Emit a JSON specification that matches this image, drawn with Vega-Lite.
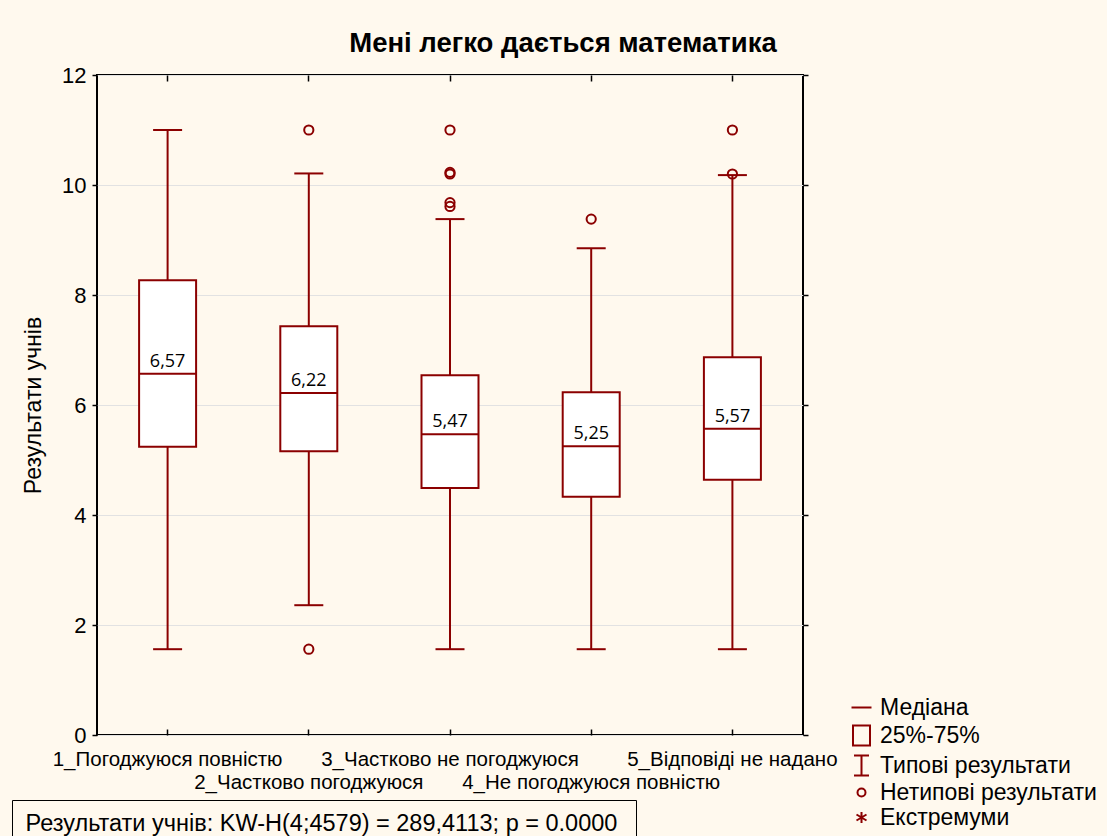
{
  "$schema": "https://vega.github.io/schema/vega-lite/v6.json",
  "width": 706,
  "height": 660,
  "autosize": {"type": "none"},
  "padding": {"left": 97, "top": 75, "right": 304, "bottom": 101},
  "background": "#FFF9EE",
  "title": {
    "text": "Мені легко дається математика",
    "font": "Liberation Sans",
    "fontWeight": "bold",
    "fontSize": 27.5,
    "anchor": "middle",
    "dx": 113,
    "offset": 7,
    "color": "black"
  },
  "config": {
    "view": {"stroke": "black", "strokeWidth": 2, "fill": "white"},
    "font": "Liberation Sans"
  },
  "datasets": {
    "stats": [
      {"cat": "1_Погоджуюся повністю", "lo": 1.56, "q1": 5.24, "med": 6.57, "q3": 8.27, "hi": 11.0, "lab": "6,57"},
      {"cat": "2_Частково погоджуюся", "lo": 2.36, "q1": 5.16, "med": 6.22, "q3": 7.43, "hi": 10.21, "lab": "6,22"},
      {"cat": "3_Частково не погоджуюся", "lo": 1.56, "q1": 4.49, "med": 5.47, "q3": 6.54, "hi": 9.38, "lab": "5,47"},
      {"cat": "4_Не погоджуюся повністю", "lo": 1.56, "q1": 4.33, "med": 5.25, "q3": 6.23, "hi": 8.85, "lab": "5,25"},
      {"cat": "5_Відповіді не надано", "lo": 1.56, "q1": 4.64, "med": 5.57, "q3": 6.87, "hi": 10.18, "lab": "5,57"}
    ],
    "out": [
      {"cat": "2_Частково погоджуюся", "v": 11.0},
      {"cat": "2_Частково погоджуюся", "v": 1.56},
      {"cat": "3_Частково не погоджуюся", "v": 11.0},
      {"cat": "3_Частково не погоджуюся", "v": 10.2},
      {"cat": "3_Частково не погоджуюся", "v": 10.23},
      {"cat": "3_Частково не погоджуюся", "v": 9.68},
      {"cat": "3_Частково не погоджуюся", "v": 9.61},
      {"cat": "4_Не погоджуюся повністю", "v": 9.38},
      {"cat": "5_Відповіді не надано", "v": 11.0},
      {"cat": "5_Відповіді не надано", "v": 10.2}
    ]
  },
  "resolve": {"axis": {"x": "independent", "y": "independent"}},
  "layer": [
    {
      "data": {"name": "stats"},
      "mark": {"type": "rule", "color": "#8B0000", "strokeWidth": 2},
      "encoding": {
        "x": {"field": "cat", "type": "nominal", "sort": null,
              "scale": {"paddingInner": 0, "paddingOuter": 0},
              "axis": {"orient": "top", "labels": false, "domain": false, "tickSize": -6, "tickColor": "black", "tickWidth": 1.5, "title": null}},
        "y": {"field": "lo", "type": "quantitative",
              "scale": {"domain": [0, 12], "nice": false},
              "axis": {"orient": "right", "labels": false, "domain": false, "grid": false, "tickSize": 5, "tickColor": "black", "tickWidth": 1.5, "values": [0, 2, 4, 6, 8, 10, 12], "title": null}},
        "y2": {"field": "q1"}
      }
    },
    {
      "data": {"name": "stats"},
      "mark": {"type": "rule", "color": "#8B0000", "strokeWidth": 2},
      "encoding": {
        "x": {"field": "cat", "type": "nominal", "sort": null, "axis": null},
        "y": {"field": "q3", "type": "quantitative", "axis": null},
        "y2": {"field": "hi"}
      }
    },
    {
      "data": {"name": "stats"},
      "mark": {"type": "tick", "color": "#8B0000", "size": 29, "thickness": 2, "opacity": 1},
      "encoding": {
        "x": {"field": "cat", "type": "nominal", "sort": null, "axis": null},
        "y": {"field": "lo", "type": "quantitative", "axis": null}
      }
    },
    {
      "data": {"name": "stats"},
      "mark": {"type": "tick", "color": "#8B0000", "size": 29, "thickness": 2, "opacity": 1},
      "encoding": {
        "x": {"field": "cat", "type": "nominal", "sort": null, "axis": null},
        "y": {"field": "hi", "type": "quantitative", "axis": null}
      }
    },
    {
      "data": {"name": "stats"},
      "mark": {"type": "bar", "fill": "white", "stroke": "#8B0000", "strokeWidth": 2, "width": 57},
      "encoding": {
        "x": {"field": "cat", "type": "nominal", "sort": null,
              "axis": {"orient": "bottom", "domain": false, "tickSize": -6, "tickColor": "black", "tickWidth": 1.5, "title": null,
                       "labelAngle": 0, "labelFontSize": 20.5, "labelColor": "black", "labelFont": "Liberation Sans",
                       "labelLimit": 0, "labelPadding": 20, "labelBaseline": "top", "labelLineHeight": 23,
                       "labelExpr": "(datum.index > 0.2 && datum.index < 0.3) || (datum.index > 0.7 && datum.index < 0.8) ? ['', datum.label] : datum.label"}},
        "y": {"field": "q1", "type": "quantitative",
              "axis": {"orient": "left", "domain": false, "grid": true, "gridColor": "#e2e2e2", "gridWidth": 1,
                       "tickSize": 5, "tickColor": "black", "tickWidth": 1.5, "values": [0, 2, 4, 6, 8, 10, 12],
                       "labelFontSize": 22, "labelColor": "black", "labelFont": "Liberation Sans", "labelPadding": 6,
                       "title": "Результати учнів", "titleFontSize": 23, "titleFontWeight": "normal", "titleColor": "black",
                       "titleFont": "Liberation Sans", "titlePadding": 16}},
        "y2": {"field": "q3"}
      }
    },
    {
      "data": {"name": "stats"},
      "mark": {"type": "tick", "color": "#8B0000", "size": 57, "thickness": 2, "opacity": 1},
      "encoding": {
        "x": {"field": "cat", "type": "nominal", "sort": null, "axis": null},
        "y": {"field": "med", "type": "quantitative", "axis": null}
      }
    },
    {
      "data": {"name": "stats"},
      "mark": {"type": "text", "font": "Open Sans", "fontSize": 18, "color": "black", "baseline": "bottom", "dy": -3},
      "encoding": {
        "x": {"field": "cat", "type": "nominal", "sort": null, "axis": null},
        "y": {"field": "med", "type": "quantitative", "axis": null},
        "text": {"field": "lab"}
      }
    },
    {
      "data": {"name": "out"},
      "mark": {"type": "point", "shape": "circle", "filled": false, "color": "#8B0000", "strokeWidth": 2, "size": 85, "opacity": 1},
      "encoding": {
        "x": {"field": "cat", "type": "nominal", "sort": null, "axis": null},
        "y": {"field": "v", "type": "quantitative", "axis": null}
      }
    },
    {
      "data": {"values": [
        {"k": "Медіана"}, {"k": "25%-75%"}, {"k": "Типові результати"}, {"k": "Нетипові результати"}, {"k": "Екстремуми"}
      ]},
      "transform": [{"filter": "datum.k == 'none'"}],
      "mark": {"type": "point", "filled": false, "color": "#8B0000", "strokeWidth": 2, "opacity": 1},
      "encoding": {
        "shape": {"field": "k", "type": "nominal",
                  "scale": {"domain": ["Медіана", "25%-75%", "Типові результати", "Нетипові результати", "Екстремуми"],
                            "range": ["M-1,0H1",
                                      "M-0.85,-1H0.85V1H-0.85Z",
                                      "M-0.75,-1H0.75M0,-1V1M-0.75,1H0.75",
                                      "M-0.4,0A0.4,0.4,0,1,1,0.4,0A0.4,0.4,0,1,1,-0.4,0Z",
                                      "M0,-0.55V0.55M-0.5,-0.3L0.5,0.3M-0.5,0.3L0.5,-0.3"]},
                  "legend": {"orient": "none", "legendX": 753, "legendY": 621, "title": null,
                             "labelFontSize": 23, "labelFont": "Liberation Sans", "labelColor": "black",
                             "symbolSize": 400, "symbolStrokeWidth": 2, "symbolStrokeColor": "#8B0000",
                             "symbolFillColor": "transparent", "symbolOpacity": 1, "rowPadding": 1, "labelOffset": 7, "padding": 0,
                             "labelLimit": 0}}
      }
    },
    {
      "data": {"values": [{"t": "Результати учнів:  KW-H(4;4579) = 289,4113; p = 0.0000"}]},
      "transform": [{"filter": "datum.t == 'none'"}],
      "mark": {"type": "point", "filled": true},
      "encoding": {
        "color": {"field": "t", "type": "nominal",
                  "scale": {"domain": ["Результати учнів:  KW-H(4;4579) = 289,4113; p = 0.0000"], "range": ["black"]},
                  "legend": {"orient": "none", "legendX": -85, "legendY": 725, "title": null,
                             "labelFontSize": 23.5, "labelFont": "Liberation Sans", "labelColor": "black",
                             "symbolSize": 1, "symbolOpacity": 0, "labelOffset": -22, "padding": 12,
                             "strokeColor": "black", "labelLimit": 0}}
      }
    }
  ]
}
